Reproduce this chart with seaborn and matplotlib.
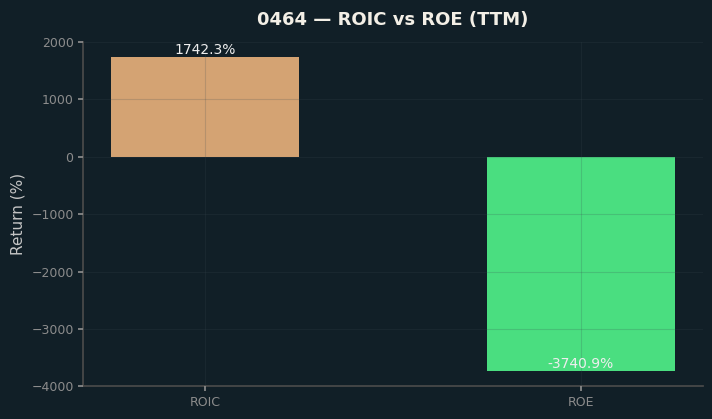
import matplotlib
matplotlib.use("Agg")
import matplotlib.pyplot as plt
import seaborn as sns
import pandas as pd

categories = ["ROIC", "ROE"]
values = [1742.3, -3740.9]
colors = ["#d4a373", "#4ade80"]
title = "0464 \u2014 ROIC vs ROE (TTM)"

bg = "#111f27"
sns.set_theme(style="dark")
plt.rcParams["font.family"] = ["DejaVu Sans"]

fig, ax = plt.subplots(figsize=(7.12, 4.19), dpi=100)
fig.patch.set_facecolor(bg)
ax.set_facecolor(bg)

df = pd.DataFrame({"metric": categories, "value": values})
sns.barplot(data=df, x="metric", y="value", hue="metric", palette=colors,
            width=0.5, saturation=1, legend=False, linewidth=0, ax=ax)

for i, v in enumerate(values):
    ax.text(i, v, f"{v:.1f}%", ha="center", va="bottom", color="#eeeeee", fontsize=10)

ax.set_xlim(-0.325, 1.325)
ax.set_ylim(-4000, 2000)
ax.set_title(title, color="#f3efe6", fontsize=13, fontweight="bold", pad=12)
ax.set_ylabel("Return (%)", color="#c4c4c4", fontsize=11)
ax.set_xlabel("")
ax.tick_params(colors="#8c8c8c", labelsize=9, length=3.5, left=True, bottom=True)
ax.grid(True, color="#3a4a50", alpha=0.2, linewidth=0.8)
ax.set_axisbelow(False)
for s in ["top", "right"]:
    ax.spines[s].set_visible(False)
for s in ["left", "bottom"]:
    ax.spines[s].set_color("#4a4a4a")
    ax.spines[s].set_visible(True)

fig.subplots_adjust(left=0.117, right=0.987, top=0.9, bottom=0.078)
fig.savefig("out.png", dpi=100, facecolor=bg)
